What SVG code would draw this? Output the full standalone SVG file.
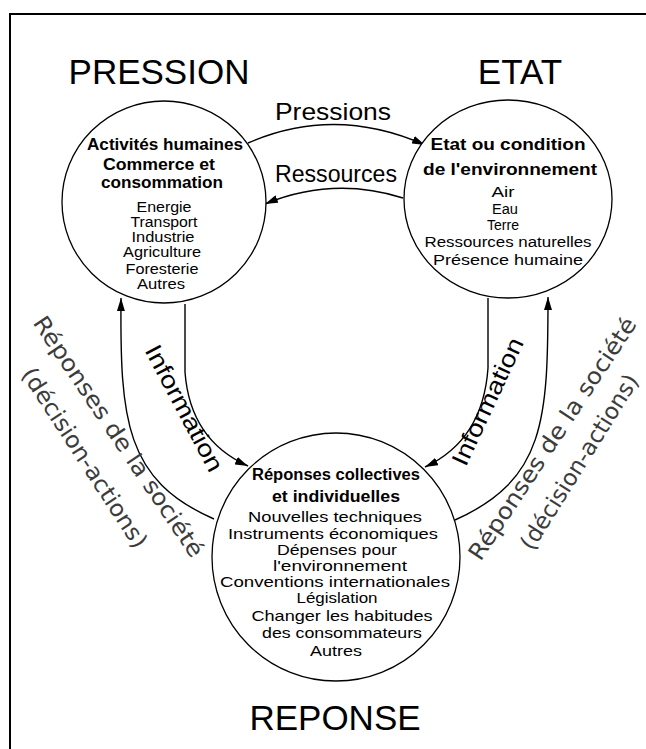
<svg xmlns="http://www.w3.org/2000/svg" width="646" height="749" viewBox="0 0 646 749">
<style>
.title{font-family:"Liberation Sans",Arial,sans-serif;font-size:35px;fill:#000;text-anchor:middle}
.lab{font-family:"Liberation Sans",Arial,sans-serif;font-size:24px;fill:#000;text-anchor:middle}
.side{font-family:"DejaVu Sans","Open Sans",sans-serif;font-size:23px;fill:#3c3c3c;text-anchor:middle}
.b{font-family:"Liberation Sans",Arial,sans-serif;font-weight:bold;font-size:16px;fill:#000;text-anchor:middle}
.r{font-family:"Liberation Sans",Arial,sans-serif;font-size:14px;fill:#000;text-anchor:middle}
.r2{font-family:"Liberation Sans",Arial,sans-serif;font-size:15px;fill:#000;text-anchor:middle}
.node{fill:#fff;stroke:#000;stroke-width:1.3}
.con{fill:none;stroke:#000;stroke-width:1.4}
</style>
<defs>
<marker id="ah" viewBox="0 0 10 10" refX="10" refY="5" markerWidth="13" markerHeight="8" markerUnits="userSpaceOnUse" orient="auto" preserveAspectRatio="none"><path d="M0,0 L10,5 L0,10 z" fill="#000"/></marker>
</defs>
<rect x="0" y="0" width="646" height="749" fill="#fff"/>
<rect x="10" y="14" width="700" height="800" fill="none" stroke="#000" stroke-width="2"/>

<text class="title" x="159" y="84">PRESSION</text>
<text class="title" x="520" y="84">ETAT</text>
<text class="title" x="335" y="730">REPONSE</text>

<g id="connectors">
<path class="con" d="M248,143 Q335,105 425,145" marker-end="url(#ah)"/>
<path class="con" d="M403,198 Q333,176 265,204" marker-end="url(#ah)"/>
<path class="con" d="M185,304 L185,372 Q190,440 248,466" marker-end="url(#ah)"/>
<path class="con" d="M214,519 C125,480 120,420 121,298" marker-end="url(#ah)"/>
<path class="con" d="M488,298 L488,368 Q483,440 425,467" marker-end="url(#ah)"/>
<path class="con" d="M455,520 C545,480 548,420 548,297" marker-end="url(#ah)"/>
<text class="lab" x="333" y="120" textLength="116" lengthAdjust="spacingAndGlyphs">Pressions</text>
<text class="lab" x="336" y="182" textLength="122" lengthAdjust="spacingAndGlyphs">Ressources</text>
<text class="lab" transform="translate(177,412) rotate(62)" x="0" y="0" textLength="140" lengthAdjust="spacingAndGlyphs">Information</text>
<text class="lab" transform="translate(495,405) rotate(-65)" x="0" y="0" textLength="138" lengthAdjust="spacingAndGlyphs">Information</text>
<text class="side" transform="translate(112,441) rotate(56)" x="0" y="0" textLength="285" lengthAdjust="spacingAndGlyphs">Réponses de la société</text>
<text class="side" transform="translate(78,462) rotate(57)" x="0" y="0" textLength="210" lengthAdjust="spacingAndGlyphs">(décision-actions)</text>
<text class="side" transform="translate(559,443) rotate(-56.6)" x="0" y="0" textLength="285" lengthAdjust="spacingAndGlyphs">Réponses de la société</text>
<text class="side" transform="translate(586,466) rotate(-58)" x="0" y="0" textLength="202" lengthAdjust="spacingAndGlyphs">(décision-actions)</text>
</g>

<g id="pression">
<ellipse class="node" cx="164" cy="202" rx="102" ry="101"/>
<text class="b" x="165" y="150" textLength="156" lengthAdjust="spacingAndGlyphs">Activités humaines</text>
<text class="b" x="159" y="170" textLength="112" lengthAdjust="spacingAndGlyphs">Commerce et</text>
<text class="b" x="162" y="188" textLength="122" lengthAdjust="spacingAndGlyphs">consommation</text>
<text class="r" x="164" y="212" textLength="55" lengthAdjust="spacingAndGlyphs">Energie</text>
<text class="r" x="164" y="227" textLength="67" lengthAdjust="spacingAndGlyphs">Transport</text>
<text class="r" x="163" y="242" textLength="63" lengthAdjust="spacingAndGlyphs">Industrie</text>
<text class="r" x="162" y="257" textLength="78" lengthAdjust="spacingAndGlyphs">Agriculture</text>
<text class="r" x="162" y="274" textLength="73" lengthAdjust="spacingAndGlyphs">Foresterie</text>
<text class="r" x="161" y="289" textLength="48" lengthAdjust="spacingAndGlyphs">Autres</text>
</g>

<g id="etat">
<ellipse class="node" cx="508" cy="199" rx="104" ry="99"/>
<text class="b" x="508" y="150" textLength="155" lengthAdjust="spacingAndGlyphs">Etat ou condition</text>
<text class="b" x="510" y="175" textLength="174" lengthAdjust="spacingAndGlyphs">de l'environnement</text>
<text class="r" x="503" y="197" textLength="23" lengthAdjust="spacingAndGlyphs">Air</text>
<text class="r" x="505" y="214" textLength="26" lengthAdjust="spacingAndGlyphs">Eau</text>
<text class="r" x="503" y="230" textLength="32" lengthAdjust="spacingAndGlyphs">Terre</text>
<text class="r" x="508" y="247" textLength="167" lengthAdjust="spacingAndGlyphs">Ressources naturelles</text>
<text class="r" x="508" y="265" textLength="150" lengthAdjust="spacingAndGlyphs">Présence humaine</text>
</g>

<g id="reponse">
<ellipse class="node" cx="336" cy="557" rx="124" ry="124"/>
<text class="b" x="336" y="480" textLength="168" lengthAdjust="spacingAndGlyphs">Réponses collectives</text>
<text class="b" x="336" y="502" textLength="128" lengthAdjust="spacingAndGlyphs">et individuelles</text>
<text class="r2" x="335" y="522" textLength="174" lengthAdjust="spacingAndGlyphs">Nouvelles techniques</text>
<text class="r2" x="333" y="539" textLength="210" lengthAdjust="spacingAndGlyphs">Instruments économiques</text>
<text class="r2" x="337" y="555" textLength="120" lengthAdjust="spacingAndGlyphs">Dépenses pour</text>
<text class="r2" x="340" y="571" textLength="134" lengthAdjust="spacingAndGlyphs">l'environnement</text>
<text class="r2" x="335" y="587" textLength="230" lengthAdjust="spacingAndGlyphs">Conventions internationales</text>
<text class="r2" x="337" y="603" textLength="81" lengthAdjust="spacingAndGlyphs">Législation</text>
<text class="r2" x="342" y="621" textLength="181" lengthAdjust="spacingAndGlyphs">Changer les habitudes</text>
<text class="r2" x="342" y="638" textLength="160" lengthAdjust="spacingAndGlyphs">des consommateurs</text>
<text class="r2" x="336" y="656" textLength="52" lengthAdjust="spacingAndGlyphs">Autres</text>
</g>
</svg>
